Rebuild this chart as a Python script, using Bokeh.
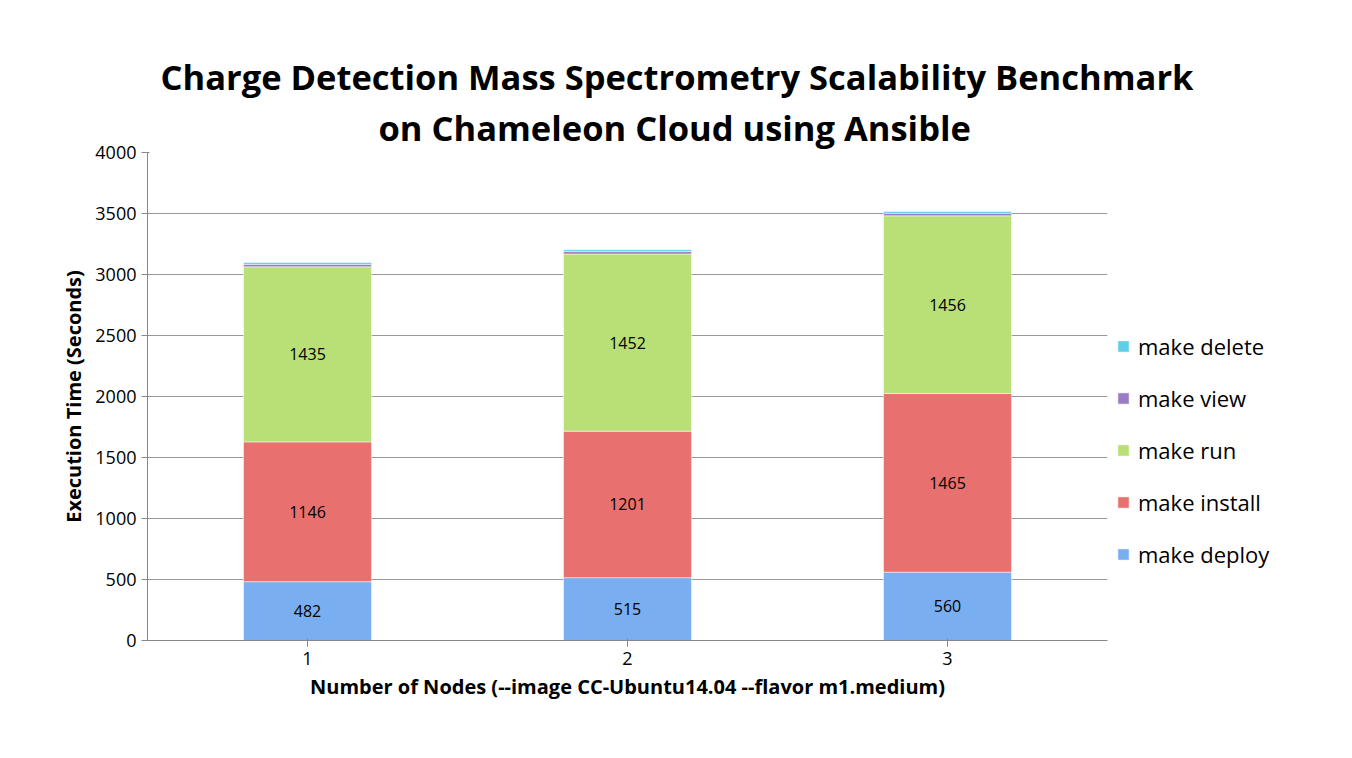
from bokeh.plotting import figure
from bokeh.models import ColumnDataSource, Legend, LegendItem, Title, FixedTicker, Range1d
from bokeh.embed import file_html
from bokeh.resources import INLINE
from bokeh.core.properties import value

nodes = [1, 2, 3]
deploy = [482, 515, 560]
install = [1146, 1201, 1465]
run = [1435, 1452, 1456]
view = [20, 20, 20]
delete = [15, 15, 15]
series = ["deploy", "install", "run", "view", "delete"]
labels = ["make deploy", "make install", "make run", "make view", "make delete"]
colors = ["#79aef0", "#e8716f", "#b9df77", "#9a7cc6", "#5fcfe9"]
font = "Open Sans"

src = ColumnDataSource(dict(x=nodes, deploy=deploy, install=install, run=run,
                            view=view, delete=delete))

p = figure(frame_width=960, frame_height=488, output_backend="svg", toolbar_location=None,
           x_range=Range1d(0.5, 3.5), y_range=Range1d(0, 4000),
           min_border_left=147, min_border_right=229, min_border_top=152, min_border_bottom=110)
p.title = None

r = p.vbar_stack(series, x="x", width=0.4, source=src, color=colors, line_color="white",
                 line_width=0.5)

# value labels in the three big segments
bottoms = [0, 0, 0]
for key, vals in [("deploy", deploy), ("install", install), ("run", run)]:
    mids = [b + v / 2 for b, v in zip(bottoms, vals)]
    p.text(x=nodes, y=mids, text=[str(v) for v in vals], text_align="center",
           text_baseline="middle", text_font=value(font), text_font_size="16px",
           text_color="black")
    bottoms = [b + v for b, v in zip(bottoms, vals)]

items = [LegendItem(label=labels[i], renderers=[r[i]]) for i in range(4, -1, -1)]
legend = Legend(items=items, label_text_font=font, label_text_font_size="22px",
                label_text_color="black",
                border_line_color=None, glyph_width=14, glyph_height=14, spacing=22,
                label_standoff=8, margin=0, padding=18, location=(9, 71))
p.add_layout(legend, "right")

for t, off, sb in [("on Chameleon Cloud using Ansible", 231, 4),
                   ("Charge Detection Mass Spectrometry Scalability Benchmark", 13, 0)]:
    p.add_layout(Title(text=t, align="left", text_font=font, text_font_size="34.5px",
                       text_font_style="bold", offset=off, standoff=sb,
                       text_color="black", text_line_height=1.0), "above")

p.xaxis.axis_label = "Number of Nodes (--image CC-Ubuntu14.04 --flavor m1.medium)"
p.yaxis.axis_label = "Execution Time (Seconds)"
for ax in (p.xaxis, p.yaxis):
    ax.axis_label_text_font = font
    ax.axis_label_text_font_size = "20px"
    ax.axis_label_text_font_style = "bold"
    ax.axis_label_text_color = "black"
    ax.major_label_text_font = font
    ax.major_label_text_font_size = "18px"
    ax.major_label_text_color = "black"
    ax.axis_line_color = "#888888"
    ax.major_tick_line_color = "#888888"
    ax.minor_tick_line_color = None
p.xaxis.ticker = FixedTicker(ticks=nodes)
p.yaxis.ticker = FixedTicker(ticks=list(range(0, 4001, 500)))
p.xgrid.grid_line_color = None
p.ygrid.grid_line_color = "#999999"
p.outline_line_color = None

open("out.html", "w").write(file_html(p, INLINE))
